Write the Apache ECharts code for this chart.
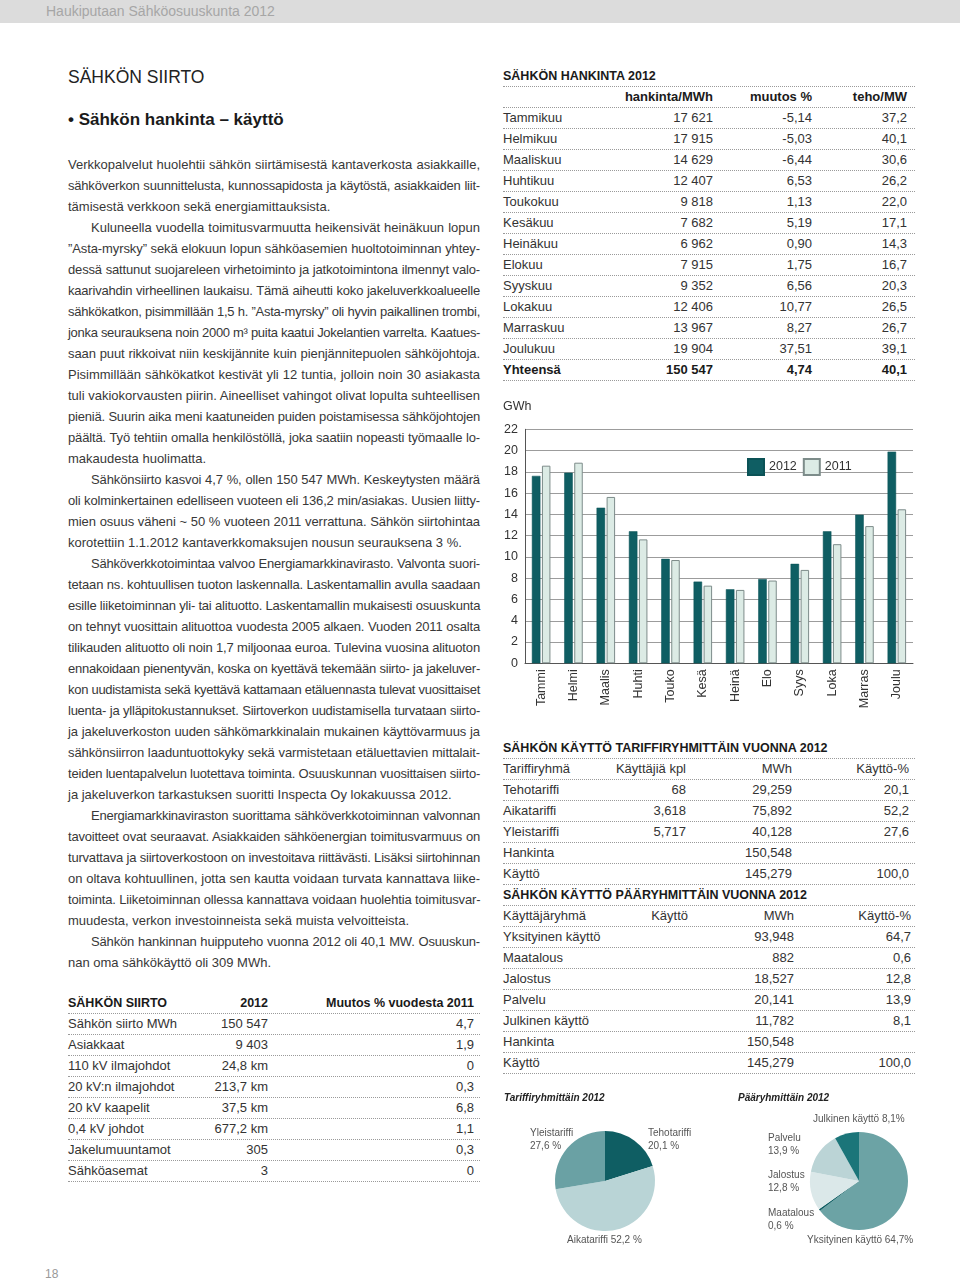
<!DOCTYPE html>
<html><head><meta charset="utf-8">
<script src="https://cdn.jsdelivr.net/npm/echarts@6/dist/echarts.min.js"></script>
<style>
body{margin:0;background:#fff}
#page{position:relative;width:960px;height:1282px;overflow:hidden;font-family:"Liberation Sans",Arial,sans-serif;color:#383838;background:#fff}
#hdr{position:absolute;left:0;top:0;width:960px;height:23px;background:#dcdcdc}
#hdr span{position:absolute;left:46px;top:3px;font-size:14px;color:#a6a6a6;line-height:17px}
.ln{position:absolute;left:68px;width:412px;height:21px;line-height:21px;font-size:13px;white-space:nowrap;text-align:justify;text-align-last:justify;box-sizing:border-box}
.ln.last{text-align-last:left}
.ln.ind{padding-left:23px}
.row{position:absolute;height:21px;box-sizing:border-box;border-bottom:1px dotted #9a9a9a;font-size:13px;line-height:20px;white-space:nowrap;color:#333}
.row span{position:absolute;top:0}
.row.b{font-weight:bold;color:#1a1a1a}
.row.t{font-size:12.5px}
#chart{position:absolute;left:0;top:0;width:960px;height:1282px}
</style></head>
<body>
<div id="page">
  <div id="hdr"><span>Haukiputaan Sähköosuuskunta 2012</span></div>
  <div style="position:absolute;left:68px;top:66px;font-size:17.5px;line-height:22px;color:#222">SÄHKÖN SIIRTO</div>
  <div style="position:absolute;left:68px;top:109px;font-size:17px;line-height:22px;font-weight:bold;color:#1a1a1a">• Sähkön hankinta – käyttö</div>
  <div id="body"></div>
  <div id="tables"></div>
  <div style="position:absolute;left:45px;top:1266px;font-size:12px;line-height:16px;color:#999">18</div>
  <div id="chart"></div>
</div>
<script>
// ---------- DATA ----------
const bodyLines = [
  ["Verkkopalvelut huolehtii sähkön siirtämisestä kantaverkosta asiakkaille,",""],
  ["sähköverkon suunnittelusta, kunnossapidosta ja käytöstä, asiakkaiden liit-",""],
  ["tämisestä verkkoon sekä energiamittauksista.","last"],
  ["Kuluneella vuodella toimitusvarmuutta heikensivät heinäkuun lopun","ind"],
  ["”Asta-myrsky” sekä elokuun lopun sähköasemien huoltotoiminnan yhtey-",""],
  ["dessä sattunut suojareleen virhetoiminto ja jatkotoimintona ilmennyt valo-",""],
  ["kaarivahdin virheellinen laukaisu. Tämä aiheutti koko jakeluverkkoalueelle",""],
  ["sähkökatkon, pisimmillään 1,5 h. ”Asta-myrsky” oli hyvin paikallinen trombi,",""],
  ["jonka seurauksena noin 2000 m³ puita kaatui Jokelantien varrelta. Kaatues-",""],
  ["saan puut rikkoivat niin keskijännite kuin pienjännitepuolen sähköjohtoja.",""],
  ["Pisimmillään sähkökatkot kestivät yli 12 tuntia, jolloin noin 30 asiakasta",""],
  ["tuli vakiokorvausten piirin. Aineelliset vahingot olivat lopulta suhteellisen",""],
  ["pieniä. Suurin aika meni kaatuneiden puiden poistamisessa sähköjohtojen",""],
  ["päältä. Työ tehtiin omalla henkilöstöllä, joka saatiin nopeasti työmaalle lo-",""],
  ["makaudesta huolimatta.","last"],
  ["Sähkönsiirto kasvoi 4,7 %, ollen 150 547 MWh.  Keskeytysten määrä","ind"],
  ["oli kolminkertainen edelliseen vuoteen eli 136,2 min/asiakas. Uusien liitty-",""],
  ["mien osuus väheni ~ 50 % vuoteen 2011 verrattuna. Sähkön siirtohintaa",""],
  ["korotettiin 1.1.2012 kantaverkkomaksujen nousun seurauksena 3 %.","last"],
  ["Sähköverkkotoimintaa valvoo Energiamarkkinavirasto. Valvonta suori-","ind"],
  ["tetaan ns. kohtuullisen tuoton laskennalla. Laskentamallin avulla saadaan",""],
  ["esille liiketoiminnan yli- tai alituotto. Laskentamallin mukaisesti osuuskunta",""],
  ["on tehnyt vuosittain alituottoa vuodesta 2005 alkaen. Vuoden 2011 osalta",""],
  ["tilikauden alituotto oli noin 1,7 miljoonaa euroa. Tulevina vuosina alituoton",""],
  ["ennakoidaan pienentyvän, koska on kyettävä tekemään siirto- ja jakeluver-",""],
  ["kon uudistamista sekä kyettävä kattamaan etäluennasta tulevat vuosittaiset",""],
  ["luenta- ja ylläpitokustannukset. Siirtoverkon uudistamisella turvataan siirto-",""],
  ["ja jakeluverkoston uuden sähkömarkkinalain mukainen käyttövarmuus ja",""],
  ["sähkönsiirron laaduntuottokyky sekä varmistetaan etäluettavien mittalait-",""],
  ["teiden luentapalvelun luotettava toiminta. Osuuskunnan vuosittaisen siirto-",""],
  ["ja jakeluverkon tarkastuksen suoritti Inspecta Oy lokakuussa 2012.","last"],
  ["Energiamarkkinaviraston suorittama sähköverkkotoiminnan valvonnan","ind"],
  ["tavoitteet ovat seuraavat. Asiakkaiden sähköenergian toimitusvarmuus on",""],
  ["turvattava ja siirtoverkostoon on investoitava riittävästi. Lisäksi siirtohinnan",""],
  ["on oltava kohtuullinen, jotta sen kautta voidaan turvata kannattava liike-",""],
  ["toiminta. Liiketoiminnan ollessa kannattava voidaan huolehtia toimitusvar-",""],
  ["muudesta, verkon investoinneista sekä muista velvoitteista.","last"],
  ["Sähkön hankinnan huipputeho vuonna 2012 oli 40,1 MW. Osuuskun-","ind"],
  ["nan oma sähkökäyttö oli 309 MWh.","last"]
];

const months = ["Tammikuu","Helmikuu","Maaliskuu","Huhtikuu","Toukokuu","Kesäkuu","Heinäkuu","Elokuu","Syyskuu","Lokakuu","Marraskuu","Joulukuu"];
const hankintaMWh = [17621,17915,14629,12407,9818,7682,6962,7915,9352,12406,13967,19904];
const muutosPct = [-5.14,-5.03,-6.44,6.53,1.13,5.19,0.90,1.75,6.56,10.77,8.27,37.51];
const tehoMW = [37.2,40.1,30.6,26.2,22.0,17.1,14.3,16.7,20.3,26.5,26.7,39.1];
const hankintaTotal = [150547, 4.74, 40.1];

const barCats = ["Tammi","Helmi","Maalis","Huhti","Touko","Kesä","Heinä","Elo","Syys","Loka","Marras","Joulu"];
const gwh2012 = [17.62,17.92,14.63,12.41,9.82,7.68,6.96,7.92,9.35,12.41,13.97,19.90];
const gwh2011 = [18.58,18.86,15.64,11.65,9.71,7.30,6.90,7.78,8.78,11.20,12.90,14.48];
const yTicks = [0,2,4,6,8,10,12,14,16,18,20,22];

const tariffNames = ["Tehotariffi","Aikatariffi","Yleistariffi"];
const tariffUsers = [68,3618,5717];
const tariffMWh = [29259,75892,40128];
const tariffPct = [20.1,52.2,27.6];
const hankintaSum = 150548;
const kayttoSum = 145279;

const groupNames = ["Yksityinen käyttö","Maatalous","Jalostus","Palvelu","Julkinen käyttö"];
const groupMWh = [93948,882,18527,20141,11782];
const groupPct = [64.7,0.6,12.8,13.9,8.1];

const siirtoItems = ["Sähkön siirto MWh","Asiakkaat","110 kV ilmajohdot","20 kV:n ilmajohdot","20 kV kaapelit","0,4 kV  johdot","Jakelumuuntamot","Sähköasemat"];
const siirto2012 = ["150 547","9 403","24,8 km","213,7 km","37,5 km","677,2 km","305","3"];
const siirtoChange = ["4,7","1,9","0","0,3","6,8","1,1","0,3","0"];

// ---------- helpers ----------
const sp = n => String(n).replace(/\B(?=(\d{3})+(?!\d))/g, "\u00A0");
const cm = n => String(n).replace(/\B(?=(\d{3})+(?!\d))/g, ",");
const dec = (n,d) => n.toFixed(d).replace(".", ",");

// ---------- body text ----------
const body = document.getElementById("body");
bodyLines.forEach((l,i) => {
  const d = document.createElement("div");
  d.className = "ln" + (l[1] ? " " + l[1] : "");
  d.style.top = (153.5 + i*21) + "px";
  d.textContent = l[0];
  body.appendChild(d);
});
document.querySelectorAll(".ln").forEach(d => {
  let ls = 0;
  while (d.scrollWidth > d.clientWidth + 0.5 && ls > -1.2) { ls -= 0.05; d.style.letterSpacing = ls + "px"; }
});

// ---------- tables ----------
const tables = document.getElementById("tables");
function addRow(left, top, width, cells, rights, cls) {
  const r = document.createElement("div");
  r.className = "row" + (cls ? " " + cls : "");
  r.style.left = left + "px"; r.style.top = top + "px"; r.style.width = width + "px";
  cells.forEach((c, i) => {
    const s = document.createElement("span");
    s.textContent = c;
    if (i === 0) s.style.left = "0px"; else s.style.right = (width - rights[i-1]) + "px";
    r.appendChild(s);
  });
  tables.appendChild(r);
}
// Hankinta table
{
  const L = 503, W = 412, R = [210, 309, 404]; let t = 65.5;
  addRow(L, t, W, ["SÄHKÖN HANKINTA 2012"], R, "b t"); t += 21;
  addRow(L, t, W, ["", "hankinta/MWh", "muutos %", "teho/MW"], R, "b"); t += 21;
  months.forEach((m, i) => { addRow(L, t, W, [m, sp(hankintaMWh[i]), dec(muutosPct[i],2), dec(tehoMW[i],1)], R); t += 21; });
  addRow(L, t, W, ["Yhteensä", sp(hankintaTotal[0]), dec(hankintaTotal[1],2), dec(hankintaTotal[2],1)], R, "b");
}
// Tariff tables
{
  const L = 503, W = 412, R = [183, 289, 406]; let t = 737.5;
  addRow(L, t, W, ["SÄHKÖN KÄYTTÖ TARIFFIRYHMITTÄIN VUONNA 2012"], R, "b t"); t += 21;
  addRow(L, t, W, ["Tariffiryhmä", "Käyttäjiä kpl", "MWh", "Käyttö-%"], R); t += 21;
  tariffNames.forEach((n, i) => { addRow(L, t, W, [n, cm(tariffUsers[i]), cm(tariffMWh[i]), dec(tariffPct[i],1)], R); t += 21; });
  addRow(L, t, W, ["Hankinta", "", cm(hankintaSum), ""], R); t += 21;
  addRow(L, t, W, ["Käyttö", "", cm(kayttoSum), "100,0"], R); t += 21;
  const R2 = [185, 291, 408];
  addRow(L, t, W, ["SÄHKÖN KÄYTTÖ PÄÄRYHMITTÄIN VUONNA 2012"], R2, "b t"); t += 21;
  addRow(L, t, W, ["Käyttäjäryhmä", "Käyttö", "MWh", "Käyttö-%"], R2); t += 21;
  groupNames.forEach((n, i) => { addRow(L, t, W, [n, "", cm(groupMWh[i]), dec(groupPct[i],1)], R2); t += 21; });
  addRow(L, t, W, ["Hankinta", "", cm(hankintaSum), ""], R2); t += 21;
  addRow(L, t, W, ["Käyttö", "", cm(kayttoSum), "100,0"], R2);
}
// Siirto table
{
  const L = 68, W = 412, R = [200, 406]; let t = 993;
  addRow(L, t, W, ["SÄHKÖN SIIRTO", "2012", "Muutos % vuodesta 2011"], R, "b t"); t += 21;
  siirtoItems.forEach((n, i) => { addRow(L, t, W, [n, siirto2012[i], siirtoChange[i]], R); t += 21; });
}

// ---------- charts ----------
const FONT = '"Liberation Sans", Arial, sans-serif';
const pie1Fmt = ["{n}\n{v} %", "{n} {v} %", "{n}\n{v} %"];
const pie1Pos = [[648,1127],[567,1234],[530,1127]];
const pie2Fmt = ["{n} {v}%", "{n}\n{v} %", "{n}\n{v} %", "{n}\n{v} %", "{n} {v}%"];
const pie2Pos = [[807,1234],[768,1207],[768,1169],[768,1132],[813,1113]];
const pieLabel = fmts => ({
  show: true, position: "inside", fontSize: 10, lineHeight: 12.5, color: "#555", fontFamily: FONT,
  overflow: "none", rotate: 0,
  formatter: p => fmts[p.dataIndex].replace("{n}", p.name).replace("{v}", dec(p.value,1))
});
const pieLayout = pos => p => ({ x: pos[p.dataIndex][0], y: pos[p.dataIndex][1], align: "left", verticalAlign: "top" });

const chart = echarts.init(document.getElementById("chart"), null, { renderer: "canvas" });
chart.setOption({
  animation: false,
  textStyle: { fontFamily: FONT },
  grid: { left: 525, top: 429.3, width: 388, height: 234 },
  legend: {
    data: ["2012", "2011"], left: 742, top: 453, itemWidth: 16, itemHeight: 16, itemGap: 6, icon: "rect",
    textStyle: { fontSize: 12.5, color: "#333", fontFamily: FONT }
  },
  xAxis: {
    type: "category", data: barCats,
    axisTick: { show: false },
    axisLine: { lineStyle: { color: "#555", width: 1 } },
    axisLabel: { rotate: 90, interval: 0, fontSize: 12.5, color: "#333", margin: 6 }
  },
  yAxis: {
    type: "value", min: yTicks[0], max: yTicks[yTicks.length-1], interval: 2,
    axisLine: { show: true, lineStyle: { color: "#555" } },
    axisTick: { show: false },
    axisLabel: { fontSize: 12.5, color: "#333", margin: 7 },
    splitLine: { lineStyle: { color: "#9c9c9c", width: 1 } }
  },
  graphic: [
    { type: "text", left: 503, top: 400, style: { text: "GWh", fontSize: 12.5, fill: "#333", fontFamily: FONT } },
    { type: "text", left: 504, top: 1093, style: { text: "Tariffiryhmittäin 2012", fontSize: 10, fontWeight: "bold", fontStyle: "italic", fill: "#222", fontFamily: FONT } },
    { type: "text", left: 738, top: 1093, style: { text: "Pääryhmittäin 2012", fontSize: 10, fontWeight: "bold", fontStyle: "italic", fill: "#222", fontFamily: FONT } }
  ],
  series: [
    { name: "2012", type: "bar", data: gwh2012, barWidth: 8.5, barGap: "18%",
      itemStyle: { color: "#0f5e63", borderColor: "#0b5256", borderWidth: 0.5 } },
    { name: "2011", type: "bar", data: gwh2011, barWidth: 8.5,
      itemStyle: { color: "#dcebe5", borderColor: "#7d8c8a", borderWidth: 1 } },
    { name: "Tariffiryhmittäin", type: "pie", center: [605, 1181], radius: 50, startAngle: 90, clockwise: true,
      avoidLabelOverlap: false,
      data: tariffNames.map((n, i) => ({ name: n, value: tariffPct[i] })),
      color: ["#0f5e63", "#b9d4d6", "#6aa1a4"],
      label: pieLabel(pie1Fmt), labelLine: { show: false }, labelLayout: pieLayout(pie1Pos),
      emphasis: { disabled: true } },
    { name: "Pääryhmittäin", type: "pie", center: [859, 1181], radius: 49, startAngle: 90, clockwise: true,
      avoidLabelOverlap: false,
      data: groupNames.map((n, i) => ({ name: n, value: groupPct[i] })),
      color: ["#6ca3a5", "#0f5e63", "#dbe8e9", "#bbd4d6", "#1b7579"],
      label: pieLabel(pie2Fmt), labelLine: { show: false }, labelLayout: pieLayout(pie2Pos),
      emphasis: { disabled: true } }
  ]
});
</script>
</body></html>
